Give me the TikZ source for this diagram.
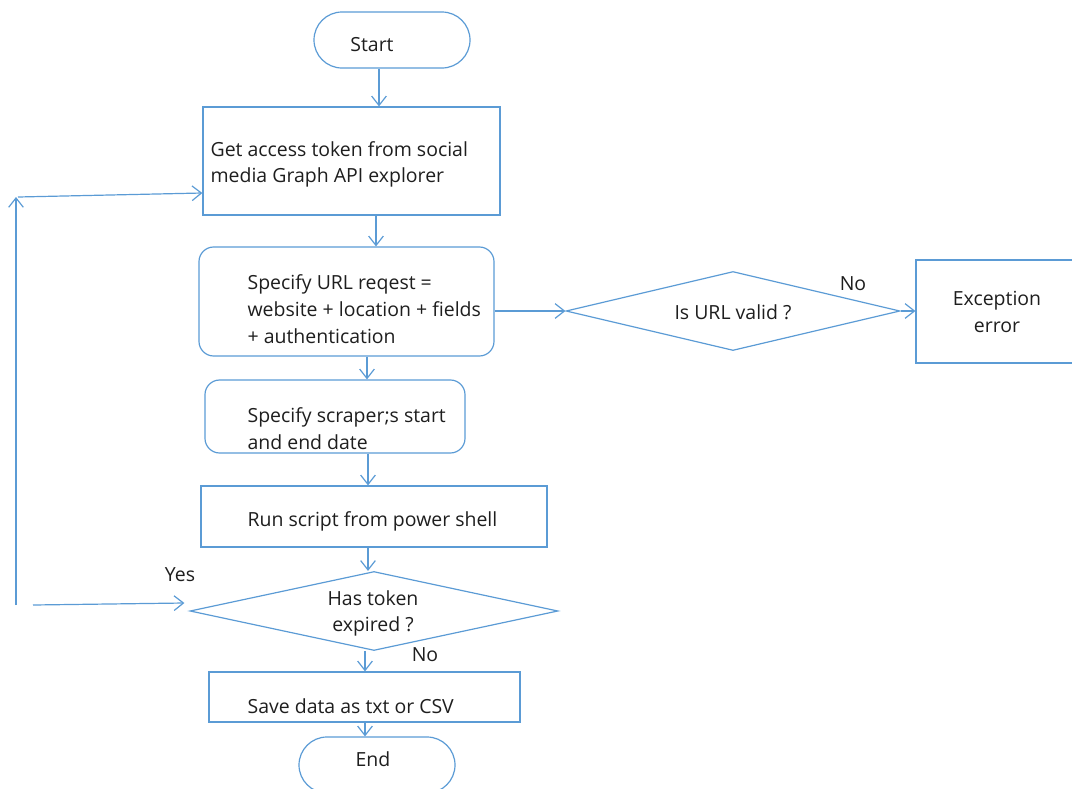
\documentclass[tikz,border=0pt]{standalone}
\usepackage{fontspec}
\setmainfont{Open Sans}
\usetikzlibrary{arrows.meta,shapes.geometric,calc}
\definecolor{ln}{RGB}{91,155,213}
\definecolor{tx}{RGB}{30,30,30}
\begin{document}
\begin{tikzpicture}[x=0.75pt,y=-0.75pt,line width=0.9pt,
  font=\fontsize{14.6pt}{20pt}\selectfont,
  arr/.style={draw=ln,-{Straight Barb[length=7pt,width=11pt,line width=0.9pt]}},
  box/.style={draw=ln,rectangle,inner sep=0pt},
  rbox/.style={box,rounded corners=11pt},
  term/.style={box,rounded corners=21pt},
  dia/.style={draw=ln,diamond,inner sep=0pt},
  lbl/.style={text=tx,inner sep=0pt,align=left,anchor=west},
  clbl/.style={text=tx,inner sep=0pt,align=center}]
\useasboundingbox (0,0) rectangle (1072,789);
\clip (0,0) rectangle (1072,789);
% shapes
\node[term,minimum width=117pt,minimum height=42pt] (start) at (392,40) {};
\node[box,minimum width=222.75pt,minimum height=81pt] (box1) at (351.5,161) {};
\node[rbox,minimum width=221.25pt,minimum height=81.75pt] (box2) at (346.5,301.5) {};
\node[dia,minimum width=250.5pt,minimum height=59.25pt,aspect=4.23] (dia1) at (733,311) {};
\node[box,minimum width=121.5pt,minimum height=77.25pt] (exc) at (997,311.5) {};
\node[rbox,minimum width=195pt,minimum height=54.75pt] (box3) at (335,416.5) {};
\node[box,minimum width=259.5pt,minimum height=45.75pt] (box4) at (374,516.5) {};
\node[dia,minimum width=276pt,minimum height=59.25pt,aspect=4.66] (dia2) at (374,611) {};
\node[box,minimum width=233.25pt,minimum height=37.5pt] (save) at (364.5,697) {};
\node[term,minimum width=117pt,minimum height=42pt] (end) at (377,765) {};
% texts
\node[clbl] (tstart) at (372,45) {Start};
\node[lbl] (t1) at (210,164.5) {Get access token from social\\media Graph API explorer};
\node[lbl] (t2) at (247,309) {Specify URL reqest =\\website + location + fields\\+ authentication};
\node[clbl] (td1) at (733,312) {Is URL valid ?};
\node[clbl] (tno1) at (853,284) {No};
\node[clbl] (texc) at (997,312) {Exception\\error};
\node[lbl] (t3) at (247,428.5) {Specify scraper;s start\\and end date};
\node[lbl] (t4) at (247,521) {Run script from power shell};
\node[clbl] (tyes) at (180,575) {Yes};
\node[clbl] (td2) at (373,613.5) {Has token\\expired ?};
\node[clbl] (tno2) at (425,655) {No};
\node[lbl] (t5) at (247,706) {Save data as txt or CSV};
\node[clbl] (tend) at (373,759) {End};
% helper columns
\coordinate (xa) at (379,0);
\coordinate (xb) at (376,0);
\coordinate (xc) at (367,0);
\coordinate (xd) at (368,0);
\coordinate (xe) at (365,0);
\coordinate (L1) at (33,605);
\coordinate (L2) at (16,605);
\coordinate (L3) at (16,197);
\coordinate (L4) at (18,197);
% connectors
\draw[arr] (start.south -| xa) -- (box1.north -| xa);
\draw[arr] (box1.south -| xb) -- (box2.north -| xb);
\draw[arr] (box2.east |- dia1.west) -- (dia1.west);
\draw[arr] (dia1.east) -- (exc.west |- dia1.east);
\draw[arr] (box2.south -| xc) -- (box3.north -| xc);
\draw[arr] (box3.south -| xd) -- (box4.north -| xd);
\draw[arr] (box4.south -| xd) -- (dia2.north -| xd);
\draw[arr] (dia2.south -| xe) -- (save.north -| xe);
\draw[arr] (save.south -| xe) -- (end.north -| xe);
\draw[arr] (L1) -- ([xshift=-3.75pt,yshift=6pt]dia2.west);
\draw[arr] (L2) -- (L3);
\draw[arr] (L4) -- ([yshift=-24pt]box1.west);
\end{tikzpicture}
\end{document}
